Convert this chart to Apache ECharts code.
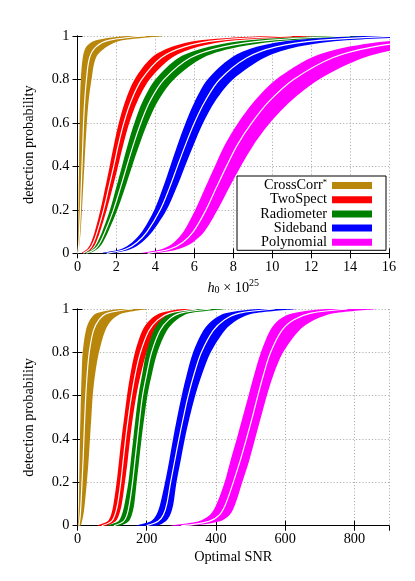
<!DOCTYPE html>
<html><head><meta charset="utf-8">
<script src="https://cdn.jsdelivr.net/npm/echarts@6/dist/echarts.min.js"></script>
<style>html,body{margin:0;padding:0;background:#fff}#c{width:415px;height:581px}</style>
</head><body><div id="c"></div>
<script>
// detection probability levels at which the band edges were read
const probLevels = [0, 0.02, 0.05, 0.1, 0.2, 0.3, 0.4, 0.5, 0.6, 0.7, 0.8, 0.9, 0.95, 0.98, 1];

// names and colours
const methodNames = ['CrossCorr*', 'TwoSpect', 'Radiometer', 'Sideband', 'Polynomial'];
const methodColors = ['#B8860B', '#FF0000', '#008000', '#0000FF', '#FF00FF'];

// top panel: h0 x 1e25 at each probability level (left edge, centre, right edge)
const crossCorrH0Left  = [0, 0.01, 0.02, 0.03, 0.05, 0.06, 0.08, 0.09, 0.11, 0.13, 0.17, 0.27, 0.45, 0.95, 2.6];
const crossCorrH0Mid   = [0.01, 0.04, 0.07, 0.1, 0.15, 0.19, 0.23, 0.27, 0.31, 0.37, 0.46, 0.62, 0.95, 1.6, 3.5];
const crossCorrH0Right = [0.02, 0.07, 0.11, 0.16, 0.23, 0.29, 0.35, 0.41, 0.48, 0.57, 0.72, 0.95, 1.5, 2.3, 4.4];

const twoSpectH0Left  = [0.2, 0.5, 0.7, 0.89, 1.18, 1.42, 1.65, 1.87, 2.12, 2.45, 2.93, 3.8, 4.85, 6.3, 9.8];
const twoSpectH0Mid   = [0.3, 0.62, 0.82, 1.02, 1.34, 1.6, 1.86, 2.1, 2.38, 2.75, 3.3, 4.3, 5.5, 7.2, 11];
const twoSpectH0Right = [0.4, 0.74, 0.95, 1.16, 1.5, 1.8, 2.08, 2.35, 2.66, 3.08, 3.7, 4.85, 6.2, 8.1, 12.3];

const radiometerH0Left  = [0.32, 0.78, 1.02, 1.27, 1.67, 1.98, 2.28, 2.58, 2.92, 3.35, 4.0, 5.2, 6.75, 8.8, 12.8];
const radiometerH0Mid   = [0.45, 0.9, 1.16, 1.42, 1.85, 2.2, 2.53, 2.87, 3.25, 3.72, 4.45, 5.8, 7.5, 9.8, 14];
const radiometerH0Right = [0.58, 1.02, 1.3, 1.58, 2.05, 2.44, 2.8, 3.18, 3.6, 4.13, 4.95, 6.45, 8.3, 10.9, 15.5];

const sidebandH0Left  = [1.2, 2.25, 2.8, 3.32, 3.95, 4.38, 4.76, 5.14, 5.55, 6.03, 6.68, 7.9, 9.2, 11.1, 14.8];
const sidebandH0Mid   = [1.5, 2.5, 3.05, 3.58, 4.25, 4.72, 5.13, 5.55, 6.0, 6.55, 7.3, 8.7, 10.2, 12.4, 16.5];
const sidebandH0Right = [1.8, 2.75, 3.3, 3.85, 4.58, 5.08, 5.52, 5.97, 6.45, 7.07, 7.98, 9.6, 11.3, 13.8, 18.3];

const polynomialH0Left  = [3.2, 4.35, 4.95, 5.45, 6.05, 6.55, 7.05, 7.57, 8.25, 9.08, 10.2, 12.0, 13.9, 16.4, 21];
const polynomialH0Mid   = [3.6, 4.75, 5.4, 5.95, 6.6, 7.12, 7.65, 8.22, 8.95, 9.85, 11.1, 13.1, 15.2, 18, 23];
const polynomialH0Right = [4.0, 5.2, 5.92, 6.52, 7.2, 7.78, 8.38, 9.05, 9.88, 10.95, 12.4, 14.7, 17.2, 20.5, 27];

// bottom panel: optimal SNR at each probability level (left edge, centre, right edge)
const crossCorrSnrLeft  = [1, 2, 3, 4, 5, 6, 7, 8.5, 10, 12, 15, 24, 36, 55, 125];
const crossCorrSnrMid   = [4, 6, 8, 10, 13, 16, 18.5, 21, 24, 28, 34, 46, 62, 85, 160];
const crossCorrSnrRight = [9, 13, 17, 21, 27, 32, 36, 40, 44, 51, 62, 80, 100, 130, 200];

const twoSpectSnrLeft  = [57, 87, 97, 104, 113, 120, 127, 135, 143, 153, 166, 187, 210, 238, 305];
const twoSpectSnrMid   = [70, 98, 108, 116, 125, 132, 139, 147, 156, 167, 182, 206, 232, 265, 345];
const twoSpectSnrRight = [85, 110, 120, 128, 137, 145, 152, 160, 170, 183, 200, 228, 258, 295, 390];

const radiometerSnrLeft  = [87, 118, 128, 136, 147, 154, 161, 168, 176, 187, 199, 220, 242, 270, 350];
const radiometerSnrMid   = [105, 133, 143, 150, 159, 166, 173, 180, 188, 200, 214, 238, 263, 295, 385];
const radiometerSnrRight = [123, 148, 157, 164, 171, 178, 185, 193, 202, 215, 231, 258, 287, 322, 425];

const sidebandSnrLeft  = [170, 212, 228, 239, 253, 265, 276, 288, 301, 316, 334, 363, 392, 427, 525];
const sidebandSnrMid   = [200, 233, 248, 258, 269, 281, 293, 306, 320, 337, 358, 392, 425, 465, 570];
const sidebandSnrRight = [230, 255, 268, 277, 286, 298, 310, 324, 340, 360, 385, 425, 462, 510, 630];

const polynomialSnrLeft  = [270, 350, 383, 402, 425, 442, 460, 477, 494, 511, 530, 556, 582, 622, 720];
const polynomialSnrMid   = [300, 380, 410, 428, 450, 470, 488, 505, 521, 538, 558, 590, 625, 672, 780];
const polynomialSnrRight = [330, 412, 440, 456, 476, 496, 513, 530, 547, 567, 594, 640, 685, 740, 860];

// axis ranges and tick steps
const h0Axis = { min: 0, max: 16, step: 2 };
const snrAxis = { min: 0, max: 900, step: 200 };
const probAxis = { min: 0, max: 1, step: 0.2 };

const topBands = [
  [crossCorrH0Left, crossCorrH0Mid, crossCorrH0Right],
  [twoSpectH0Left, twoSpectH0Mid, twoSpectH0Right],
  [radiometerH0Left, radiometerH0Mid, radiometerH0Right],
  [sidebandH0Left, sidebandH0Mid, sidebandH0Right],
  [polynomialH0Left, polynomialH0Mid, polynomialH0Right]
];
const bottomBands = [
  [crossCorrSnrLeft, crossCorrSnrMid, crossCorrSnrRight],
  [twoSpectSnrLeft, twoSpectSnrMid, twoSpectSnrRight],
  [radiometerSnrLeft, radiometerSnrMid, radiometerSnrRight],
  [sidebandSnrLeft, sidebandSnrMid, sidebandSnrRight],
  [polynomialSnrLeft, polynomialSnrMid, polynomialSnrRight]
];

const FONT = '"Liberation Serif", "DejaVu Serif", serif';
const FS = 14.3;

function bandSeries(name, color, axisIdx, left, right) {
  return {
    type: 'custom', name: name,
    xAxisIndex: axisIdx, yAxisIndex: axisIdx,
    coordinateSystem: 'cartesian2d', clip: true, silent: true,
    itemStyle: { color: color },
    data: probLevels.map((p, i) => [left[i], p, right[i]]),
    encode: { x: [0, 2], y: 1 },
    renderItem: function (params, api) {
      if (params.dataIndex !== 0) return null;
      const pts = [];
      for (let i = 0; i < probLevels.length; i++) pts.push(api.coord([left[i], probLevels[i]]));
      for (let i = probLevels.length - 1; i >= 0; i--) pts.push(api.coord([right[i], probLevels[i]]));
      return { type: 'polygon', shape: { points: pts, smooth: 0.3 }, style: { fill: color } };
    }
  };
}
function midSeries(name, axisIdx, mid) {
  return {
    type: 'line', name: name + ' centre',
    xAxisIndex: axisIdx, yAxisIndex: axisIdx,
    data: probLevels.map((p, i) => [mid[i], p]),
    symbol: 'none', smooth: 0.35, clip: true, silent: true,
    lineStyle: { color: '#fff', width: 1.2 }
  };
}

const series = [];
methodNames.forEach((n, k) => {
  series.push(bandSeries(n, methodColors[k], 0, topBands[k][0], topBands[k][2]));
  series.push(midSeries(n, 0, topBands[k][1]));
  series.push(bandSeries(n, methodColors[k], 2, bottomBands[k][0], bottomBands[k][2]));
  series.push(midSeries(n, 2, bottomBands[k][1]));
});

const axisLineStyle = { show: true, lineStyle: { color: '#000', width: 1 } };
const tickStyle = { show: true, inside: true, length: 5, lineStyle: { color: '#000', width: 1 } };
const splitStyle = { show: true, lineStyle: { color: '#b0b0b0', type: [1.2, 2], width: 1 } };
const labelStyle = { color: '#000', fontFamily: FONT, fontSize: FS };

function mainX(grid, ax, name, nameRich, showMax) {
  return {
    type: 'value', gridIndex: grid, position: 'bottom', min: ax.min, max: ax.max, interval: ax.step,
    axisLine: axisLineStyle, axisTick: tickStyle, splitLine: splitStyle,
    axisLabel: Object.assign({ margin: 7, showMaxLabel: showMax }, labelStyle),
    name: name, nameLocation: 'middle', nameGap: 25,
    nameTextStyle: Object.assign({ rich: nameRich }, labelStyle)
  };
}
function mirrorX(grid, ax) {
  return {
    type: 'value', gridIndex: grid, position: 'top', min: ax.min, max: ax.max, interval: ax.step,
    axisLine: axisLineStyle, axisTick: tickStyle, splitLine: { show: false }, axisLabel: { show: false }
  };
}
function mainY(grid) {
  return {
    type: 'value', gridIndex: grid, position: 'left', min: probAxis.min, max: probAxis.max, interval: probAxis.step,
    axisLine: axisLineStyle, axisTick: tickStyle, splitLine: splitStyle,
    axisLabel: Object.assign({ margin: 8 }, labelStyle),
    name: 'detection probability', nameLocation: 'middle', nameGap: 41, nameRotate: 90,
    nameTextStyle: labelStyle
  };
}
function mirrorY(grid) {
  return {
    type: 'value', gridIndex: grid, position: 'right', min: probAxis.min, max: probAxis.max, interval: probAxis.step,
    axisLine: axisLineStyle, axisTick: tickStyle, splitLine: { show: false }, axisLabel: { show: false }
  };
}

const h0Rich = {
  i: { fontFamily: FONT, fontSize: FS, fontStyle: 'italic', color: '#000' },
  sub: { fontFamily: FONT, fontSize: 10, color: '#000', padding: [6, 0, 0, 0] },
  t: { fontFamily: FONT, fontSize: FS, color: '#000' },
  sup: { fontFamily: FONT, fontSize: 10, color: '#000', padding: [0, 0, 9, 0] }
};

const option = {
  animation: false,
  backgroundColor: '#fff',
  grid: [
    { left: 77.5, right: 26, top: 36, height: 217.3 },
    { left: 77.5, right: 26, top: 309, height: 216.7 }
  ],
  xAxis: [
    mainX(0, h0Axis, '{i|h}{sub|0}{t| × 10}{sup|25}', h0Rich, true),
    mirrorX(0, h0Axis),
    mainX(1, snrAxis, 'Optimal SNR', {}, false),
    mirrorX(1, snrAxis)
  ],
  yAxis: [mainY(0), mirrorY(0), mainY(1), mirrorY(1)],
  legend: {
    show: true, orient: 'vertical', align: 'right', left: 237, top: 176,
    padding: [2, 14, 1, 6], itemGap: 0.2, itemWidth: 40, itemHeight: 7, icon: 'rect',
    selectedMode: false, backgroundColor: '#fff', borderColor: '#000', borderWidth: 1,
    data: methodNames.map((n, k) => ({ name: n, itemStyle: { color: methodColors[k] } })),
    formatter: function (n) { return n === 'CrossCorr*' ? '{a|CrossCorr}{s|*}' : '{a|' + n + '}'; },
    textStyle: {
      fontFamily: FONT, fontSize: FS, color: '#000', width: 84, align: 'right', lineHeight: 14,
      rich: {
        a: { fontFamily: FONT, fontSize: FS, color: '#000', align: 'right' },
        s: { fontFamily: FONT, fontSize: 8.5, color: '#000', align: 'right', padding: [0, 0, 6, 0] }
      }
    }
  },
  series: series
};

const chart = echarts.init(document.getElementById('c'), null, { renderer: 'canvas' });
chart.setOption(option);
</script>
</body></html>
